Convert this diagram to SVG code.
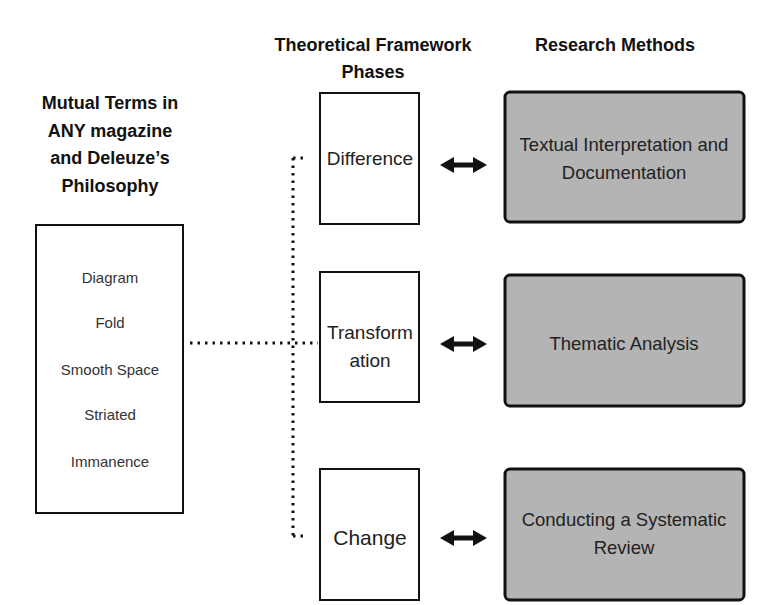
<svg xmlns="http://www.w3.org/2000/svg" width="772" height="605" viewBox="0 0 772 605">
<style>
.hd{font-family:"Liberation Sans",Arial,sans-serif;font-weight:bold;font-size:18px;fill:#111;text-anchor:middle}
.term{font-family:"Liberation Sans",Arial,sans-serif;font-size:15px;fill:#333;text-anchor:middle}
.ph{font-family:"Liberation Sans",Arial,sans-serif;font-size:19px;fill:#222;text-anchor:middle}
.rm{font-family:"Liberation Sans",Arial,sans-serif;font-size:18.5px;fill:#222;text-anchor:middle}
.wbox{fill:#fff;stroke:#111;stroke-width:2}
.gbox{fill:#b4b4b4;stroke:#111;stroke-width:3}
.dot{fill:none;stroke:#111;stroke-width:3;stroke-dasharray:2.5 5;stroke-linecap:butt}
.arr{fill:#111}
</style>
<rect width="772" height="605" fill="#fff"/>
<g id="headers">
<text class="hd" x="110" y="109">Mutual Terms in</text>
<text class="hd" x="110" y="137">ANY magazine</text>
<text class="hd" x="110" y="164">and Deleuze’s</text>
<text class="hd" x="110" y="192">Philosophy</text>
<text class="hd" x="373" y="51">Theoretical Framework</text>
<text class="hd" x="373" y="78">Phases</text>
<text class="hd" x="615" y="51">Research Methods</text>
</g>
<g id="connectors">
<path class="dot" d="M190 343 H318"/>
<path class="dot" d="M293 158 V540"/>
<path class="dot" d="M293 158 H306"/>
<path class="dot" d="M293 536 H306"/>
<path class="arr" d="M440 165 L454 157 V162.5 H473 V157 L487 165 L473 173 V167.5 H454 V173 Z"/>
<path class="arr" d="M440 344 L454 336 V341.5 H473 V336 L487 344 L473 352 V346.5 H454 V352 Z"/>
<path class="arr" d="M440 538 L454 530 V535.5 H473 V530 L487 538 L473 546 V540.5 H454 V546 Z"/>
</g>
<g id="terms">
<rect class="wbox" x="36" y="225" width="147" height="288" stroke-width="3"/>
<text class="term" x="110" y="283">Diagram</text>
<text class="term" x="110" y="328">Fold</text>
<text class="term" x="110" y="375">Smooth Space</text>
<text class="term" x="110" y="420">Striated</text>
<text class="term" x="110" y="467">Immanence</text>
</g>
<g id="difference">
<rect class="wbox" x="320" y="93" width="99" height="131"/>
<text class="ph" x="370" y="165">Difference</text>
</g>
<g id="transformation">
<rect class="wbox" x="320" y="272" width="99" height="130"/>
<text class="ph" x="370" y="339">Transform</text>
<text class="ph" x="370" y="367">ation</text>
</g>
<g id="change">
<rect class="wbox" x="320" y="469" width="99" height="131"/>
<text class="ph" x="370" y="545" style="font-size:21px">Change</text>
</g>
<g id="textual">
<rect class="gbox" x="505" y="92" width="239" height="130" rx="5"/>
<text class="rm" x="624" y="151">Textual Interpretation and</text>
<text class="rm" x="624" y="179">Documentation</text>
</g>
<g id="thematic">
<rect class="gbox" x="505" y="275" width="239" height="131" rx="5"/>
<text class="rm" x="624" y="350">Thematic Analysis</text>
</g>
<g id="systematic">
<rect class="gbox" x="505" y="469" width="239" height="131" rx="5"/>
<text class="rm" x="624" y="526">Conducting a Systematic</text>
<text class="rm" x="624" y="554">Review</text>
</g>
</svg>
